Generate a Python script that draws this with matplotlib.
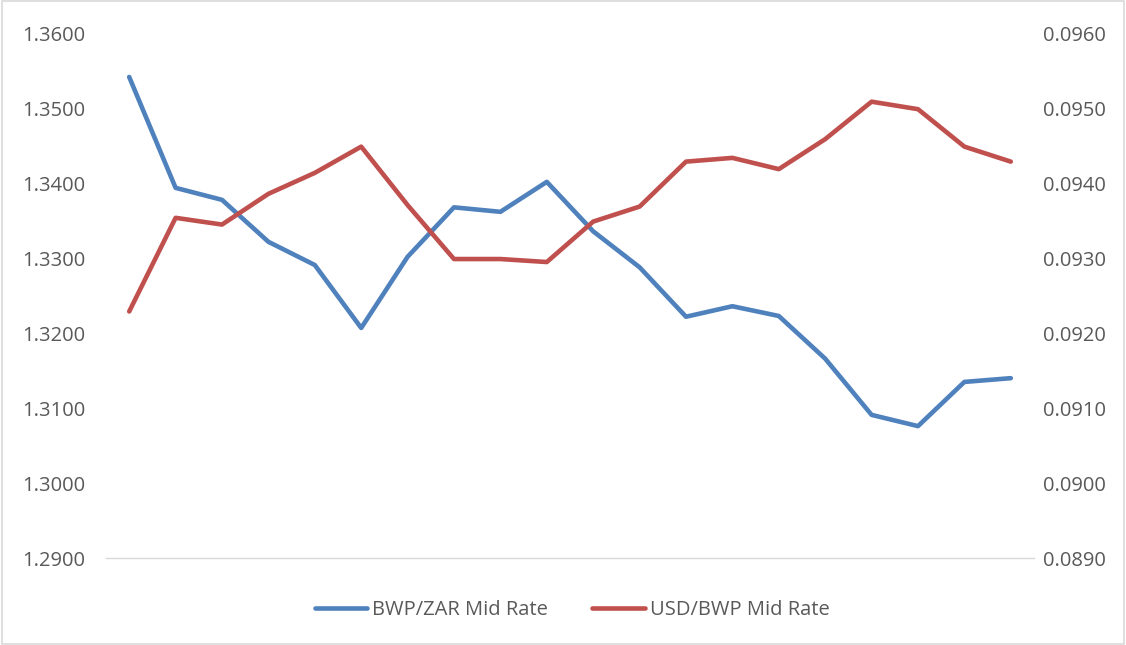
import numpy as np
import matplotlib.pyplot as plt
from matplotlib.patches import Rectangle

# daily mid rates
bwp_zar = [1.3542, 1.3394, 1.3378, 1.3322, 1.3291, 1.3207, 1.3302, 1.3368, 1.3362, 1.3402,
           1.3336, 1.3288, 1.3222, 1.3236, 1.3223, 1.3166, 1.3091, 1.3076, 1.3135, 1.3140]
usd_bwp = [0.09229, 0.09354, 0.09345, 0.09386, 0.09414, 0.09449, 0.09371, 0.09299, 0.09299, 0.09295,
           0.09349, 0.09369, 0.09429, 0.09434, 0.09419, 0.09459, 0.09509, 0.09499, 0.09449, 0.09429]
left_ticks = [1.29, 1.30, 1.31, 1.32, 1.33, 1.34, 1.35, 1.36]
right_ticks = [0.089, 0.090, 0.091, 0.092, 0.093, 0.094, 0.095, 0.096]

plt.rcParams['font.family'] = ['Open Sans', 'DejaVu Sans']
txt = '#595959'
fs = 14.5

fig = plt.figure(figsize=(11.26, 6.45), dpi=100)
ax = fig.add_axes([106/1126, 87/645, 928/1126, 524.5/645])
ax2 = ax.twinx()

x = np.arange(len(bwp_zar))
l1, = ax.plot(x, bwp_zar, color='#4F81BD', lw=3.3, solid_capstyle='round',
              solid_joinstyle='round', label='BWP/ZAR Mid Rate')
l2, = ax2.plot(x, usd_bwp, color='#C0504D', lw=3.3, solid_capstyle='round',
               solid_joinstyle='round', label='USD/BWP Mid Rate')

ax.set_xlim(-0.5, len(x) - 0.5)
ax.set_ylim(1.29, 1.36)
ax2.set_ylim(0.089, 0.096)
ax.set_yticks(left_ticks)
ax.set_yticklabels([f'{v:.4f}' for v in left_ticks])
ax2.set_yticks(right_ticks)
ax2.set_yticklabels([f'{v:.4f}' for v in right_ticks])
ax.set_xticks([])

for a in (ax, ax2):
    for s in a.spines.values():
        s.set_visible(False)
    a.tick_params(axis='y', length=0, labelsize=fs, labelcolor=txt)
ax.tick_params(axis='y', pad=15)
ax2.tick_params(axis='y', pad=6.5)
ax.spines['bottom'].set_visible(True)
ax.spines['bottom'].set_color('#d9d9d9')
ax.spines['bottom'].set_linewidth(1.0)

leg = fig.legend(handles=[l1, l2], loc='center', bbox_to_anchor=(572/1126, 1 - 610/645),
                 ncol=2, frameon=False, fontsize=fs, handlelength=2.6,
                 handletextpad=0.25, columnspacing=2.2)
for t in leg.get_texts():
    t.set_color(txt)

fig.patches.append(Rectangle((0.002, 0.002), 0.996, 0.996, transform=fig.transFigure,
                             fill=False, edgecolor='#d9d9d9', lw=1.2))

fig.savefig('out.png', dpi=100)
